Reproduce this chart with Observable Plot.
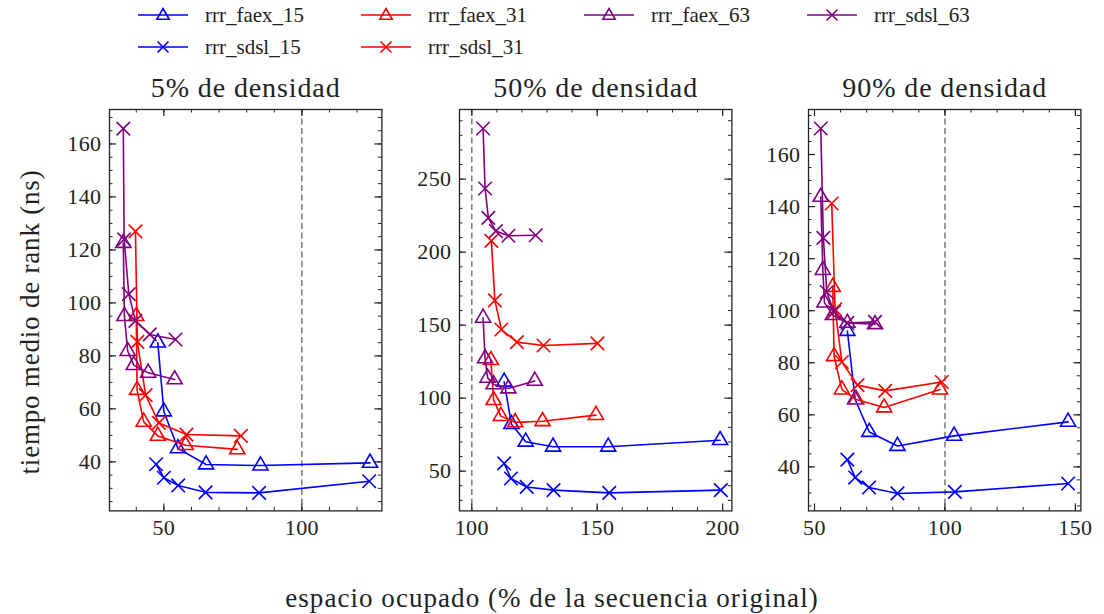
<!DOCTYPE html>
<html>
<head>
<meta charset="utf-8">
<script src="https://cdn.jsdelivr.net/npm/d3@7"></script>
<script src="https://cdn.jsdelivr.net/npm/@observablehq/plot@0.6"></script>
<style>
  html, body { margin: 0; padding: 0; background: #fff; }
  #root { position: relative; width: 1104px; height: 614px; overflow: hidden; font-family: "Liberation Serif", "DejaVu Serif", serif; color: #222; }
  .panel { position: absolute; }
  .panel text { letter-spacing: 0.4px; }
  .lg { position: absolute; display: flex; align-items: center; font-size: 21px; white-space: nowrap; }
  .lg svg { margin-right: 17px; }
  .lbl { position: absolute; white-space: nowrap; font-size: 27px; }
</style>
</head>
<body>
<div id="root"></div>
<script>
// ---------- data ----------
const seriesNames = ["rrr_faex_15", "rrr_sdsl_15", "rrr_faex_31", "rrr_sdsl_31", "rrr_faex_63", "rrr_sdsl_63"];
const seriesColors = ["#0000ff", "#0000ff", "#ff0000", "#ff0000", "#800080", "#800080"];
const seriesSymbols = ["triangle", "times", "triangle", "times", "triangle", "times"];
const legendOrder = ["rrr_faex_15", "rrr_faex_31", "rrr_faex_63", "rrr_sdsl_63", "rrr_sdsl_15", "rrr_sdsl_31"];

const panelTitles = ["5% de densidad", "50% de densidad", "90% de densidad"];

// 5% density: [espacio %, tiempo ns]
const d05_faex_15 = [[47.8, 85], [50, 59], [55.1, 45.1], [65.3, 39], [85, 38.6], [124.7, 39.6]];
const d05_sdsl_15 = [[47.2, 39.1], [50, 34], [55.2, 31.1], [65.1, 28.5], [84.5, 28.3], [124.4, 32.7]];
const d05_faex_31 = [[40, 95], [40.3, 67.1], [42.7, 55.1], [47.8, 49.8], [57.9, 46.3], [76.6, 44.7]];
const d05_sdsl_31 = [[39.7, 127], [40.4, 85.3], [43.4, 65.2], [48.2, 54.7], [58.2, 50.3], [77.9, 49.8]];
const d05_faex_63 = [[35.3, 122.6], [35.7, 95], [36.9, 81.8], [39.1, 76.5], [44.3, 73.6], [53.9, 71.1]];
const d05_sdsl_63 = [[35.3, 165.8], [35.6, 124], [37.3, 103.3], [39.7, 93.2], [44.9, 88.1], [54.2, 86.2]];

// 50% density
const d50_faex_15 = [[112.9, 111.2], [115.8, 82.2], [121.5, 70.1], [132.4, 66.7], [154.4, 66.7], [199, 71.2]];
const d50_sdsl_15 = [[112.9, 55.3], [115.6, 45], [121.9, 39.2], [132.6, 37], [154.8, 35.1], [199.3, 37]];
const d50_faex_31 = [[107.6, 126], [108.7, 98.6], [111.6, 87.7], [117.3, 83.4], [128.2, 84.2], [149.5, 88.4]];
const d50_sdsl_31 = [[107.8, 207.7], [109.2, 167], [111.8, 147], [118, 138.4], [128.6, 136.1], [150.1, 137.5]];
const d50_faex_63 = [[104.5, 155], [105.3, 127.2], [106.3, 113.9], [108.7, 109.4], [114.6, 106.6], [125.1, 111.8]];
const d50_sdsl_63 = [[104.5, 284.7], [105.3, 243.6], [106.6, 223.5], [109.6, 214.4], [114.6, 211.2], [125.5, 211.6]];

// 90% density
const d90_faex_15 = [[62.6, 92.2], [65.6, 65.9], [71, 53.4], [81.8, 48], [103.5, 51.9], [147.2, 57.3]];
const d90_sdsl_15 = [[62.6, 42.8], [65.6, 35.9], [70.9, 32.1], [81.8, 29.8], [103.8, 30.4], [147.2, 33.6]];
const d90_faex_31 = [[57, 109.1], [57.5, 82.5], [60.5, 69.7], [66, 65.9], [76.7, 62.8], [98.1, 69.7]];
const d90_sdsl_31 = [[56.6, 141.2], [57.9, 100.5], [60.5, 80.3], [66.5, 71.4], [77.1, 69.2], [98.8, 72.6]];
const d90_faex_63 = [[52.4, 143.7], [53.2, 115.6], [53.8, 103.1], [57, 98.3], [62.6, 95.3], [73.2, 94.8]];
const d90_sdsl_63 = [[52.4, 170], [53.4, 128], [54.7, 107.2], [57.5, 99.5], [62.6, 95.3], [73.2, 95.7]];

// axis tick values
const p1_xTicks = [50, 100], p1_yTicks = [40, 60, 80, 100, 120, 140, 160];
const p2_xTicks = [100, 150, 200], p2_yTicks = [50, 100, 150, 200, 250];
const p3_xTicks = [50, 100, 150], p3_yTicks = [40, 60, 80, 100, 120, 140, 160];
const refLine = [100];

// ---------- layout ----------
const FONT = '"Liberation Serif", "DejaVu Serif", serif';
const FW = 272.4, FH = 401.4;     // frame size
const mL = 64, mR = 14, mT = 54, mB = 46;
const frameTop = 109.3;

const panels = [
  { title: panelTitles[0], left: 109, xDomain: [30.3, 129.0], yDomain: [21.5, 173],
    xTicks: p1_xTicks, xMinor: d3.range(40, 130, 10), yTicks: p1_yTicks, yMinor: d3.range(25, 173, 5),
    data: [d05_faex_15, d05_sdsl_15, d05_faex_31, d05_sdsl_31, d05_faex_63, d05_sdsl_63] },
  { title: panelTitles[1], left: 458.7, xDomain: [95.1, 203.7], yDomain: [22.8, 297.7],
    xTicks: p2_xTicks, xMinor: d3.range(100, 204, 10), yTicks: p2_yTicks, yMinor: d3.range(30, 297, 10),
    data: [d50_faex_15, d50_sdsl_15, d50_faex_31, d50_sdsl_31, d50_faex_63, d50_sdsl_63] },
  { title: panelTitles[2], left: 808.3, xDomain: [47.7, 152.1], yDomain: [23.1, 177.3],
    xTicks: p3_xTicks, xMinor: d3.range(50, 152, 10), yTicks: p3_yTicks, yMinor: d3.range(25, 177, 5),
    data: [d90_faex_15, d90_sdsl_15, d90_faex_31, d90_sdsl_31, d90_faex_63, d90_sdsl_63] }
];

const root = document.getElementById("root");
const ink = "#222";

for (const p of panels) {
  const seriesMarks = [];
  p.data.forEach((pts, i) => {
    seriesMarks.push(Plot.line(pts, { x: d => d[0], y: d => d[1], stroke: seriesColors[i], strokeWidth: 1.6 }));
    seriesMarks.push(Plot.dot(pts, { x: d => d[0], y: d => d[1], symbol: seriesSymbols[i],
      r: seriesSymbols[i] === "triangle" ? 5.6 : 6.2, stroke: seriesColors[i], fill: "none", strokeWidth: 1.6 }));
  });
  const maj = 7, min = 3.5;
  const svg = Plot.plot({
    width: FW + mL + mR, height: FH + mT + mB,
    marginLeft: mL, marginRight: mR, marginTop: mT, marginBottom: mB,
    x: { domain: p.xDomain },
    y: { domain: p.yDomain },
    style: { fontFamily: FONT, fontSize: "22px", color: ink, background: "transparent", overflow: "visible" },
    marks: [
      Plot.ruleX(refLine, { x: d => d, stroke: "#808080", strokeDasharray: "6,3.5", strokeWidth: 1.6 }),
      ...seriesMarks,
      // minor ticks (inward, four sides)
      Plot.tickX(p.xMinor, { x: d => d, insetTop: FH - min, stroke: ink, strokeWidth: 1 }),
      Plot.tickX(p.xMinor, { x: d => d, insetBottom: FH - min, stroke: ink, strokeWidth: 1 }),
      Plot.tickY(p.yMinor, { y: d => d, insetRight: FW - min, stroke: ink, strokeWidth: 1 }),
      Plot.tickY(p.yMinor, { y: d => d, insetLeft: FW - min, stroke: ink, strokeWidth: 1 }),
      // major ticks
      Plot.tickX(p.xTicks, { x: d => d, insetTop: FH - maj, stroke: ink, strokeWidth: 1.2 }),
      Plot.tickX(p.xTicks, { x: d => d, insetBottom: FH - maj, stroke: ink, strokeWidth: 1.2 }),
      Plot.tickY(p.yTicks, { y: d => d, insetRight: FW - maj, stroke: ink, strokeWidth: 1.2 }),
      Plot.tickY(p.yTicks, { y: d => d, insetLeft: FW - maj, stroke: ink, strokeWidth: 1.2 }),
      Plot.frame({ stroke: ink, strokeWidth: 1.3 }),
      Plot.axisX(p.xTicks, { tickSize: 0, tickPadding: 8, label: null, fontSize: 22, fill: ink }),
      Plot.axisY(p.yTicks, { tickSize: 0, tickPadding: 8, label: null, fontSize: 22, fill: ink }),
      Plot.text([p.title], { text: d => d, frameAnchor: "top", dy: -32, fontSize: 28, fill: ink })
    ]
  });
  svg.classList.add("panel");
  svg.style.left = (p.left - mL) + "px";
  svg.style.top = (frameTop - mT) + "px";
  // slightly wider title spacing, closer to the original serif
  d3.select(svg).selectAll("text").filter(function () { return panelTitles.includes(this.textContent); })
    .style("letter-spacing", "0.9px");
  root.appendChild(svg);
}

// ---------- legend ----------
const legendPos = [[138, 15], [361, 15], [584, 15], [807, 15], [138, 47], [361, 47]];
legendOrder.forEach((name, k) => {
  const i = seriesNames.indexOf(name);
  const item = document.createElement("div");
  item.className = "lg";
  item.style.left = legendPos[k][0] + "px";
  item.style.top = (legendPos[k][1] - 14) + "px";
  item.style.height = "28px";
  const c = seriesColors[i];
  const mk = seriesSymbols[i] === "triangle"
    ? `<path d="M25,7.5 L31.2,18.3 L18.8,18.3 Z" fill="none" stroke="${c}" stroke-width="1.6"/>`
    : `<path d="M19.5,8.5 L30.5,19.5 M19.5,19.5 L30.5,8.5" stroke="${c}" stroke-width="1.6"/>`;
  item.innerHTML = `<svg width="50" height="28"><line x1="0" x2="50" y1="14" y2="14" stroke="${c}" stroke-width="1.6"/>${mk}</svg><span>${name}</span>`;
  root.appendChild(item);
});

// ---------- axis labels ----------
const xl = document.createElement("div");
xl.className = "lbl";
xl.textContent = "espacio ocupado (% de la secuencia original)";
xl.style.left = "552px"; xl.style.top = "598px";
xl.style.letterSpacing = "1.05px";
xl.style.transform = "translate(-50%, -50%)";
root.appendChild(xl);

const yl = document.createElement("div");
yl.className = "lbl";
yl.textContent = "tiempo medio de rank (ns)";
yl.style.left = "30px"; yl.style.top = "322px";
yl.style.letterSpacing = "0.8px";
yl.style.transform = "translate(-50%, -50%) rotate(-90deg)";
root.appendChild(yl);
</script>
</body>
</html>
